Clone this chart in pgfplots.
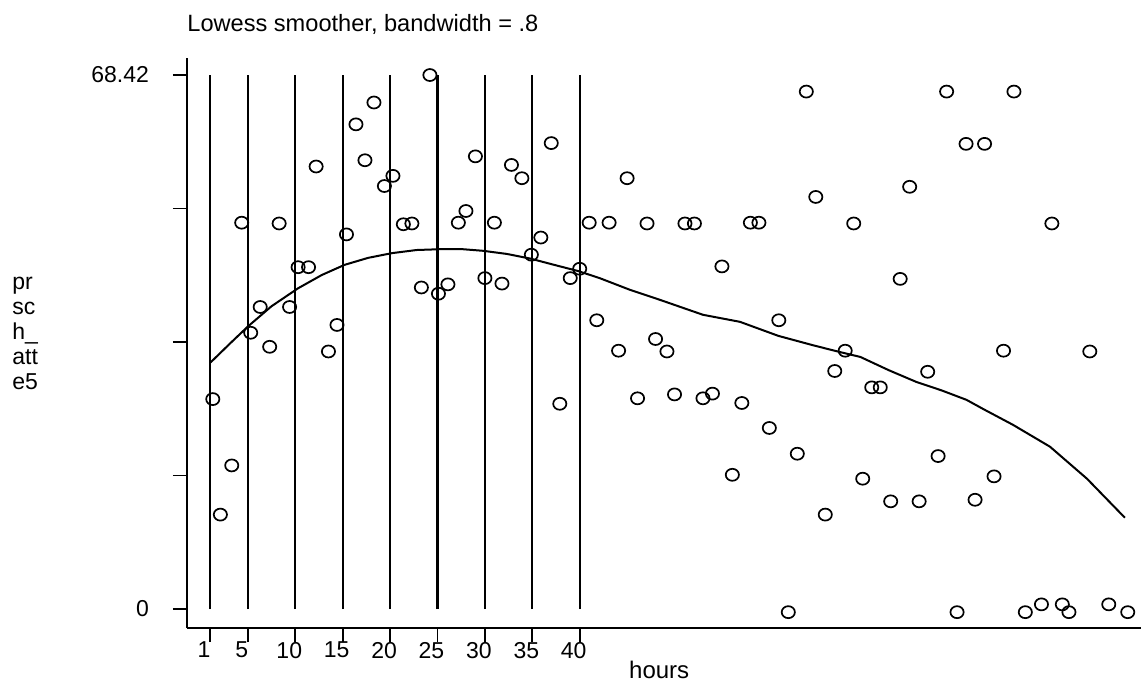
\documentclass[border=0pt]{standalone}
\usepackage{fontspec}
\setmainfont{Liberation Sans}
\usepackage{pgfplots}
\pgfplotsset{compat=1.18}
\begin{document}
\fontsize{11.5}{13.8}\selectfont
\begin{tikzpicture}
\useasboundingbox (-93.5pt,-27pt) rectangle (477pt,314pt);
\begin{axis}[
  at={(0,0)}, anchor=south west,
  scale only axis, width=477pt, height=285pt,
  xmin=-1.42, xmax=99.2, ymin=-2.43, ymax=70.6,
  clip=false,
  axis x line=bottom, axis y line=left,
  axis line style={-, line width=0.9pt},
  tick align=outside, major tick length=7pt,
  tick style={line width=0.9pt, black},
  /pgf/number format/assume math mode=true,
  xtick={1,5,10,15,20,25,30,35,40},
  xticklabels={1,5,10,15,20,25,30,35,40},
  ytick={0,17.105,34.21,51.315,68.42},
  yticklabels={0,,,,68.42},
  xticklabel style={font=\fontsize{11.5}{13.8}\selectfont, xshift=-3pt, yshift=4pt},
  yticklabel style={font=\fontsize{11.5}{13.8}\selectfont, xshift=-8pt},
  title={Lowess smoother, bandwidth = .8},
  title style={at={(axis description cs:0,1)}, anchor=base west, yshift=7.2pt, inner sep=0pt, font=\fontsize{11.8}{13.8}\selectfont},
  xlabel={hours},
  xlabel style={at={(axis description cs:0.495,0)}, anchor=base, yshift=-25pt, inner sep=0pt, font=\fontsize{12}{13.8}\selectfont},
]
\pgfplotsinvokeforeach{1,5,10,15,20,25,30,35,40}{
  \addplot[black, line width=1.1pt] coordinates {(#1,0) (#1,68.42)};
}
\addplot[black, line width=1pt] coordinates {
(1.07,31.6) (3.1,34.0) (5.0,36.2) (7.5,38.8) (10.3,41.1) (12.8,42.8) (15.2,44.1) (17.7,45.0) (20.2,45.6) (22.8,46.0)
(25.2,46.1) (27.7,46.1) (29.8,45.9) (32.3,45.5) (34.8,44.9) (37.3,44.1) (39.85,43.3) (42.1,42.4) (45.3,40.9)
(48.5,39.6) (53.0,37.7) (56.9,36.8) (60.95,35.0) (64.6,33.8) (67.2,33.0) (69.6,32.3)
(72.6,30.6) (75.5,29.1) (78.2,28.0) (80.8,26.8) (82.6,25.6) (85.7,23.6) (89.6,20.8)
(93.5,16.7) (97.5,11.7)
};
\addplot[only marks, mark=o, mark size=3pt, mark options={line width=0.85pt, black, xscale=1.1}] table {
x y
1.3 26.9
2.1 12.1
3.3 18.4
4.35 49.5
5.3 35.4
6.3 38.7
7.3 33.6
8.3 49.4
9.4 38.7
10.3 43.8
11.4 43.8
12.2 56.7
13.5 33.0
14.4 36.4
15.4 48.0
16.4 62.1
17.35 57.5
18.3 64.9
19.4 54.2
20.3 55.5
21.4 49.3
22.3 49.4
23.3 41.2
24.2 68.42
25.1 40.4
26.1 41.6
27.2 49.5
28.0 51.0
29.0 58.0
30.0 42.4
31.0 49.5
31.8 41.7
32.8 56.9
33.9 55.2
34.9 45.4
35.9 47.6
37.0 59.7
37.9 26.3
39.0 42.4
40.0 43.6
41.0 49.5
41.8 37.0
43.1 49.5
44.1 33.1
45.0 55.2
46.1 27.0
47.1 49.4
48.0 34.6
49.2 33.0
50.0 27.5
51.1 49.4
52.1 49.4
53.0 27.0
54.0 27.6
55.0 43.9
56.1 17.2
57.1 26.4
58.0 49.5
58.9 49.5
60.0 23.2
61.0 37.0
62.0 -0.4
62.95 19.9
63.9 66.3
64.9 52.8
65.9 12.1
66.9 30.5
68.0 33.1
68.9 49.4
69.85 16.7
70.8 28.4
71.7 28.4
72.8 13.8
73.8 42.3
74.8 54.1
75.8 13.8
76.7 30.4
77.8 19.6
78.7 66.3
79.8 -0.4
80.75 59.6
81.7 14.0
82.7 59.6
83.7 17.0
84.7 33.1
85.8 66.3
87.0 -0.4
88.7 0.6
89.8 49.4
90.9 0.6
91.6 -0.4
93.8 33.0
95.8 0.6
97.8 -0.4
};
\node[anchor=west, align=left, inner sep=0pt, xshift=-87.5pt, font=\fontsize{11.5}{12.5}\selectfont] at (axis description cs:0,0.516) {pr\\sc\\h\_\\att\\e5};
\end{axis}
\end{tikzpicture}
\end{document}
